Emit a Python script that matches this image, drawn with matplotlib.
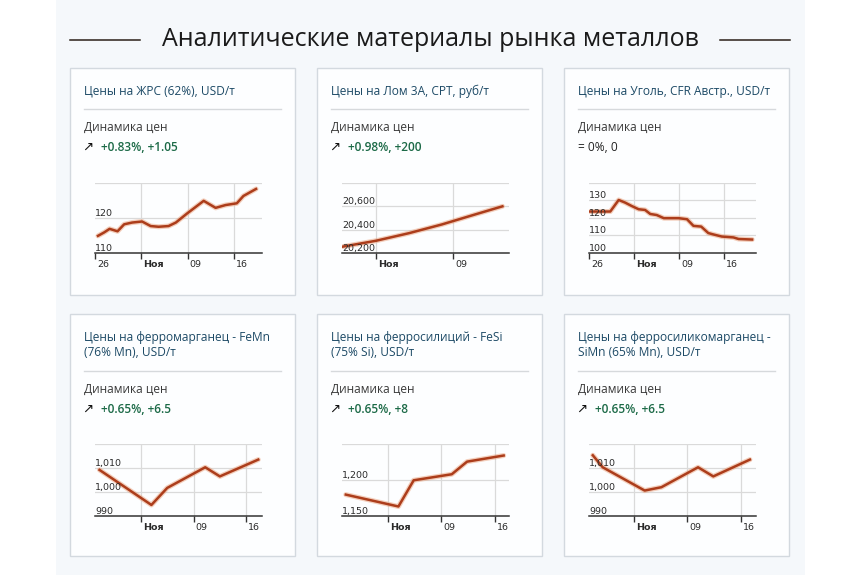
import matplotlib
matplotlib.use('Agg')
import matplotlib.pyplot as plt
from matplotlib.patches import Rectangle
from matplotlib.lines import Line2D
from matplotlib.transforms import blended_transform_factory

W, H = 862, 575

# ---- data (days counted from the "Ноя" week tick, Mon 02 Nov) ----
titles = [['Цены на ЖРС (62%), USD/т'],
          ['Цены на Лом 3А, CPT, руб/т'],
          ['Цены на Уголь, CFR Австр., USD/т'],
          ['Цены на ферромарганец - FeMn', '(76% Mn), USD/т'],
          ['Цены на ферросилиций - FeSi', '(75% Si), USD/т'],
          ['Цены на ферросиликомарганец -', 'SiMn (65% Mn), USD/т']]
changes = ['+0.83%, +1.05', '+0.98%, +200', '= 0%, 0',
           '+0.65%, +6.5', '+0.65%, +8', '+0.65%, +6.5']
rising = [True, True, False, True, True, True]

ore_days = [-6.55, -5.6, -4.8, -3.6, -2.6, -1.4, 0.1, 1.4, 2.6, 4.1, 5.2, 6.9, 9.4, 11.2, 12.7, 14.4, 15.4, 17.3]
ore_vals = [114.9, 115.9, 116.9, 116.2, 118.2, 118.7, 119.0, 117.7, 117.5, 117.7, 118.7, 121.3, 124.9, 122.9, 123.7, 124.2, 126.3, 128.3]

scrap_days = [-3.0, 0, 3, 6, 9, 11.5]
scrap_vals = [20255, 20305, 20370, 20445, 20530, 20600]

coal_days = [-6.85, -3.7, -2.4, -1.4, -0.4, 0.7, 1.7, 2.5, 3.5, 4.6, 6.9, 8.2, 9.2, 10.4, 11.5, 12.3, 13.6, 15.4, 16.2, 18.3]
coal_vals = [123.7, 123.7, 130.3, 128.8, 126.9, 125.0, 124.6, 122.3, 121.7, 119.9, 119.9, 119.3, 115.5, 115.1, 111.4, 110.6, 109.4, 108.9, 108.0, 107.7]

femn_days = [-5.5, 1.4, 3.5, 8.55, 10.5, 15.6]
femn_vals = [1009.2, 994.6, 1001.7, 1010.3, 1006.5, 1013.5]

fesi_days = [-5.5, 1.4, 3.4, 8.4, 10.4, 15.2]
fesi_vals = [1179.7, 1163.2, 1199.6, 1208.0, 1225.5, 1234.0]

simn_days = [-5.4, -4.1, 1.4, 3.6, 8.4, 10.4, 15.2]
simn_vals = [1015.3, 1010.3, 1000.6, 1002.0, 1010.3, 1006.5, 1013.5]

series = [(ore_days, ore_vals), (scrap_days, scrap_vals), (coal_days, coal_vals),
          (femn_days, femn_vals), (fesi_days, fesi_vals), (simn_days, simn_vals)]

xlims = [(-7.0, 18.2), (-3.1, 12.1), (-7.0, 18.9), (-6.1, 16.1), (-6.0, 15.9), (-5.9, 16.0)]
xticks = [[-7, 0, 7, 14], [0, 7], [-7, 0, 7, 14], [0, 7, 14], [0, 7, 14], [0, 7, 14]]
xlabels = [['26', 'Ноя', '09', '16'], ['Ноя', '09'], ['26', 'Ноя', '09', '16'],
           ['Ноя', '09', '16'], ['Ноя', '09', '16'], ['Ноя', '09', '16']]
ylims = [(110, 130), (20200, 20800), (100, 140), (990, 1020), (1150, 1250), (990, 1020)]
yticks = [[110, 120, 130], [20200, 20400, 20600, 20800], [100, 110, 120, 130, 140],
          [990, 1000, 1010, 1020], [1150, 1200, 1250], [990, 1000, 1010, 1020]]

fig = plt.figure(figsize=(W / 100, H / 100), dpi=100)
fig.patch.set_facecolor('white')


def fx(x):
    return x / W


def fy(y):
    return 1 - y / H


# light backdrop
fig.patches.append(Rectangle((fx(56), fy(575)), fx(805) - fx(56), 1, transform=fig.transFigure,
                             facecolor='#f5f8fb', edgecolor='none', zorder=0))

# heading with rules
fig.text(fx(431), fy(40), 'Аналитические материалы рынка металлов', ha='center', va='center',
         fontsize=18, family='Open Sans', color='#1a1a1a')
for x0, x1 in [(70, 140), (720, 790)]:
    fig.lines.append(Line2D([fx(x0), fx(x1)], [fy(40), fy(40)], transform=fig.transFigure,
                            color='#2b2018', lw=1.1))

col_left = [70, 317, 564]
row_top = [68, 314]
row_bottom = [295, 556]
pw = 225

for i in range(6):
    r, c = divmod(i, 3)
    L = col_left[c]
    T = row_top[r]
    B = row_bottom[r]
    fig.patches.append(Rectangle((fx(L), fy(B)), pw / W, (B - T) / H, transform=fig.transFigure,
                                 facecolor='#fdfeff', edgecolor='#d3d9df', lw=1, zorder=1))
    for k, line in enumerate(titles[i]):
        fig.text(fx(L + 14), fy(T + 23 + 15.5 * k), line, ha='left', va='center', fontsize=8.6,
                 family='Open Sans', color='#1d4a66')
    sep = T + (57 if r == 1 else 41)
    fig.lines.append(Line2D([fx(L + 14), fx(L + 211)], [fy(sep), fy(sep)], transform=fig.transFigure,
                            color='#d6d9dc', lw=1))
    fig.text(fx(L + 14), fy(sep + 18.5), 'Динамика цен', ha='left', va='center', fontsize=8.6,
             family='Open Sans', color='#3a3a3a')
    if rising[i]:
        fig.text(fx(L + 12), fy(sep + 38.5), '↗', ha='left', va='center', fontsize=9.5,
                 family='DejaVu Sans', color='#111111')
        fig.text(fx(L + 31), fy(sep + 38.5), changes[i], ha='left', va='center', fontsize=8.6,
                 family='Open Sans', weight='semibold', color='#1c6a47')
    else:
        fig.text(fx(L + 14), fy(sep + 38.5), changes[i], ha='left', va='center', fontsize=8.6,
                 family='Open Sans', color='#222222')

    # chart area
    top = 183 if r == 0 else 444
    bot = 253 if r == 0 else 516
    cl = L + 25
    ax = fig.add_axes([fx(cl), fy(bot), 167 / W, (bot - top) / H])
    ax.set_zorder(3)
    ax.set_facecolor('none')
    d, v = series[i]
    ax.plot(d, v, color='#eaa07a', lw=3.6, alpha=0.5, solid_capstyle='round', zorder=3)
    ax.plot(d, v, color='#ac3d1b', lw=1.8, solid_joinstyle='round', zorder=4)
    ax.set_xlim(*xlims[i])
    ax.set_ylim(*ylims[i])
    ax.set_xticks(xticks[i])
    ax.set_yticks(yticks[i])
    ax.set_xticklabels([])
    ax.tick_params(axis='y', length=0, labelleft=False)
    ax.tick_params(axis='x', direction='out', length=4, width=1, color='#333333')
    ax.grid(True, color='#dadada', lw=0.9)
    for s in ['top', 'left', 'right']:
        ax.spines[s].set_visible(False)
    ax.spines['bottom'].set_color('#333333')
    ax.spines['bottom'].set_linewidth(1.1)
    # first x gridline sits on the left edge and is not drawn
    gl = ax.xaxis.get_gridlines()
    if xticks[i][0] <= xlims[i][0] + 0.5:
        gl[0].set_visible(False)
    ax.yaxis.get_gridlines()[0].set_visible(False)

    ytr = blended_transform_factory(ax.transAxes, ax.transData)
    for yv in yticks[i][:-1]:
        ax.text(0.0, yv, f'{yv:,}', transform=ytr, ha='left', va='bottom', fontsize=6.8,
                family='DejaVu Sans', color='#2a2a2a', zorder=5)
    xtr = blended_transform_factory(ax.transData, ax.transAxes)
    step = (xlims[i][1] - xlims[i][0]) / 167
    for xv, lab in zip(xticks[i], xlabels[i]):
        ax.text(xv + 2 * step, -0.1, lab, transform=xtr,
                ha='left', va='top', fontsize=6.8, family='DejaVu Sans', color='#2a2a2a',
                weight='bold' if lab == 'Ноя' else 'normal')

fig.savefig('out.png', dpi=100, facecolor=fig.get_facecolor())
